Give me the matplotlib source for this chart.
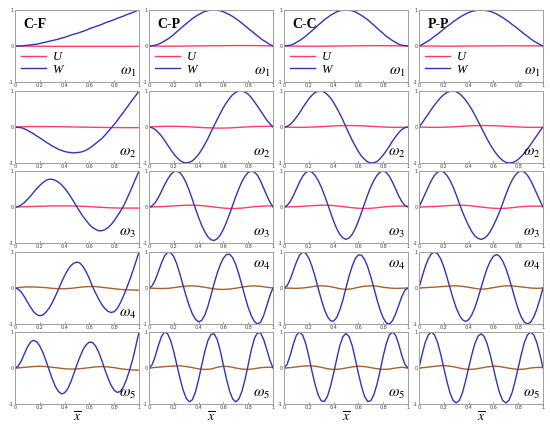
import numpy as np
import matplotlib.pyplot as plt

# sample positions along the beam
x_w = np.linspace(0, 1, 41)
x_u = np.linspace(0, 1, 21)

bcs = ["C-F", "C-P", "C-C", "P-P"]

# transverse mode shapes W, modes 1..5
w_cf = [
    [0, .00, .00, .01, .02, .03, .04, .05, .07, .09, .11, .13, .15, .17, .19, .22, .24, .27, .30, .33, .35,
     .38, .41, .44, .48, .51, .54, .57, .60, .64, .67, .70, .73, .77, .80, .83, .87, .90, .93, .97, 1.0],
    [0, -.01, -.02, -.05, -.09, -.14, -.19, -.25, -.30, -.36, -.42, -.47, -.53, -.57, -.62, -.65, -.68, -.70, -.71, -.72, -.71,
     -.70, -.68, -.64, -.59, -.53, -.46, -.39, -.32, -.23, -.13, -.03, .07, .18, .30, .41, .53, .65, .77, .88, 1.0],
    [0, .01, .06, .12, .21, .30, .41, .51, .60, .68, .74, .77, .77, .74, .69, .62, .52, .41, .28, .14, 0,
     -.14, -.27, -.38, -.49, -.57, -.62, -.66, -.66, -.63, -.57, -.49, -.38, -.25, -.12, .03, .21, .40, .60, .80, 1.0],
    [0, -.03, -.11, -.24, -.39, -.53, -.66, -.74, -.77, -.75, -.67, -.56, -.41, -.23, -.04, .16, .34, .50, .62, .69, .72,
     .69, .59, .44, .26, .04, -.14, -.31, -.46, -.57, -.65, -.68, -.66, -.57, -.41, -.22, 0, .22, .47, .73, 1.0],
    [0, .05, .19, .39, .58, .72, .77, .73, .61, .43, .20, -.05, -.30, -.51, -.65, -.72, -.69, -.58, -.39, -.15, .10,
     .32, .52, .65, .72, .71, .61, .44, .21, -.05, -.28, -.48, -.62, -.68, -.65, -.52, -.31, -.05, .25, .62, 1.0],
]
w_cp = [
    [0, .01, .02, .05, .09, .14, .19, .25, .32, .40, .47, .55, .62, .69, .76, .82, .87, .92, .96, .98, 1.0,
     1.0, .99, .98, .95, .91, .87, .82, .76, .70, .63, .56, .49, .42, .35, .28, .21, .15, .10, .04, 0],
    [0, -.02, -.07, -.15, -.25, -.37, -.50, -.63, -.75, -.85, -.93, -.98, -1.0, -.98, -.94, -.86, -.76, -.63, -.48, -.32, -.14,
     .04, .21, .38, .54, .68, .80, .90, .96, 1.0, 1.0, .97, .91, .82, .70, .58, .45, .32, .19, .09, 0],
    [0, .03, .12, .26, .43, .61, .77, .90, .98, 1.0, .95, .84, .67, .45, .21, -.05, -.29, -.51, -.69, -.83, -.91,
     -.93, -.88, -.78, -.62, -.42, -.19, .05, .29, .51, .71, .86, .96, 1.0, .97, .88, .72, .52, .32, .14, 0],
    [0, .06, .22, .45, .69, .89, .99, .98, .87, .66, .38, .07, -.23, -.50, -.72, -.87, -.94, -.90, -.75, -.51, -.20,
     .12, .41, .65, .83, .93, .94, .84, .65, .38, .07, -.25, -.54, -.77, -.93, -1.0, -.95, -.76, -.49, -.21, 0],
    [0, .09, .32, .62, .87, 1.0, .95, .76, .45, .08, -.29, -.61, -.84, -.94, -.88, -.66, -.32, .08, .46, .76, .93,
     .95, .79, .48, .08, -.31, -.64, -.86, -.94, -.86, -.64, -.31, .09, .50, .82, .98, .97, .79, .51, .22, 0],
]
w_cc = [
    [0, .01, .02, .05, .10, .15, .21, .27, .35, .42, .50, .58, .65, .73, .79, .85, .90, .95, .98, .99, 1.0,
     .99, .98, .95, .90, .85, .79, .73, .65, .58, .50, .42, .35, .27, .21, .15, .10, .05, .02, .01, 0],
    [0, .02, .07, .16, .27, .39, .53, .66, .78, .88, .96, .99, 1.0, .97, .90, .81, .68, .53, .37, .19, 0,
     -.19, -.37, -.53, -.68, -.81, -.90, -.97, -1.0, -.99, -.96, -.88, -.78, -.66, -.53, -.39, -.27, -.16, -.07, -.02, 0],
    [0, .04, .15, .31, .50, .69, .85, .96, 1.0, .97, .88, .74, .56, .34, .10, -.15, -.39, -.60, -.76, -.86, -.90,
     -.86, -.76, -.60, -.39, -.15, .10, .34, .56, .74, .88, .97, 1.0, .96, .85, .69, .50, .31, .15, .04, 0],
    [0, .06, .24, .48, .72, .91, 1.0, .97, .83, .61, .32, 0, -.31, -.59, -.79, -.91, -.92, -.82, -.61, -.33, 0,
     .33, .61, .82, .92, .91, .79, .59, .31, 0, -.32, -.61, -.83, -.97, -1.0, -.91, -.72, -.48, -.24, -.06, 0],
    [0, .10, .35, .66, .91, 1.0, .92, .68, .33, -.08, -.45, -.74, -.91, -.93, -.79, -.51, -.15, .25, .62, .87, .96,
     .87, .62, .25, -.15, -.51, -.79, -.93, -.91, -.74, -.45, -.08, .33, .68, .92, 1.0, .91, .66, .35, .10, 0],
]
w_pp = [
    [0, .04, .09, .14, .20, .27, .33, .40, .47, .54, .60, .67, .73, .79, .84, .89, .93, .96, .98, .99, 1.0,
     .99, .98, .96, .93, .89, .84, .79, .73, .67, .60, .54, .47, .40, .33, .27, .20, .14, .09, .04, 0],
    [0, .11, .24, .36, .49, .61, .72, .82, .90, .96, .99, 1.0, .98, .93, .85, .75, .63, .49, .34, .17, 0,
     -.17, -.34, -.49, -.63, -.75, -.85, -.93, -.98, -1.0, -.99, -.96, -.90, -.82, -.72, -.61, -.49, -.36, -.24, -.11, 0],
    [0, .18, .37, .56, .74, .88, .97, 1.0, .97, .88, .74, .56, .34, .10, -.13, -.33, -.52, -.68, -.80, -.87, -.90,
     -.87, -.80, -.68, -.52, -.33, -.13, .10, .34, .56, .74, .88, .97, 1.0, .97, .88, .74, .56, .37, .18, 0],
    [0, .31, .59, .81, .95, 1.0, .95, .81, .59, .31, 0, -.29, -.55, -.75, -.88, -.93, -.88, -.75, -.55, -.29, 0,
     .29, .55, .75, .88, .93, .88, .75, .55, .29, 0, -.31, -.59, -.81, -.95, -1.0, -.95, -.81, -.59, -.31, 0],
    [0, .38, .71, .92, 1.0, .92, .71, .38, 0, -.37, -.69, -.90, -.97, -.90, -.69, -.37, 0, .36, .67, .88, .95,
     .88, .67, .36, 0, -.37, -.69, -.90, -.97, -.90, -.69, -.37, 0, .38, .71, .92, 1.0, .92, .71, .38, 0],
]

# axial mode shapes U, modes 1..5
u_cf = [
    [0, 0, -.003, -.005, -.007, -.008, -.01, -.01, -.01, -.01, -.01, -.01, -.01, -.01, -.01, -.01, -.01, -.01, -.01, -.01, -.01],
    [0, .005, .01, .012, .013, .012, .01, .008, .005, .002, 0, -.003, -.006, -.009, -.012, -.014, -.016, -.017, -.018, -.018, -.018],
    [0, .005, .01, .015, .02, .025, .03, .03, .03, .03, .025, .02, .01, 0, -.01, -.02, -.025, -.03, -.03, -.03, -.03],
    [0, .02, .03, .03, .02, .01, -.01, -.02, -.02, -.01, .01, .03, .04, .04, .02, 0, -.02, -.04, -.05, -.055, -.06],
    [0, .01, .025, .04, .05, .04, .02, 0, -.02, -.03, -.025, -.01, .01, .03, .04, .03, .01, -.02, -.04, -.055, -.06],
]
u_cp = [
    [0, -.002, -.004, -.005, -.005, -.004, -.002, 0, .002, .004, .006, .008, .01, .011, .012, .012, .012, .011, .009, .006, .003],
    [0, .01, .015, .02, .02, .015, .01, 0, -.01, -.02, -.025, -.03, -.03, -.025, -.015, -.005, .005, .012, .017, .02, .02],
    [0, .005, .01, .02, .03, .04, .05, .05, .045, .03, .01, -.01, -.03, -.04, -.04, -.03, -.01, .01, .02, .03, .03],
    [0, -.01, -.015, -.01, .01, .035, .055, .06, .045, .02, -.01, -.035, -.04, -.03, -.005, .025, .05, .06, .045, .02, 0],
    [0, .015, .03, .045, .055, .06, .04, .01, -.025, -.04, -.03, .02, .05, .035, 0, -.03, -.04, -.02, .01, .02, .02],
]
u_cc = [
    [0, -.002, -.004, -.006, -.007, -.007, -.006, -.004, -.002, 0, .002, .004, .006, .008, .009, .01, .01, .008, .006, .003, 0],
    [0, -.005, -.01, -.01, -.005, 0, .01, .02, .03, .035, .04, .04, .035, .03, .02, .01, 0, -.005, -.01, -.01, -.005],
    [0, .005, .01, .02, .03, .04, .05, .05, .04, .02, 0, -.02, -.035, -.04, -.035, -.02, 0, .015, .025, .025, .02],
    [0, -.005, -.01, 0, .02, .05, .06, .05, .02, -.02, -.04, -.02, .02, .05, .06, .05, .02, 0, -.01, -.005, 0],
    [0, .01, .03, .05, .06, .05, .02, -.02, -.04, -.03, 0, .03, .05, .04, .01, -.02, -.04, -.03, 0, .02, 0],
]
u_pp = [
    [0, -.001, -.002, -.003, -.004, -.004, -.003, -.002, -.001, 0, .001, .002, .003, .004, .005, .005, .005, .004, .003, .002, 0],
    [0, -.005, -.01, -.01, -.005, 0, .01, .02, .03, .035, .04, .04, .035, .03, .02, .01, 0, -.005, -.01, -.01, -.01],
    [0, .005, .01, .02, .03, .04, .05, .05, .04, .02, 0, -.02, -.035, -.04, -.035, -.02, 0, .015, .025, .025, .02],
    [0, .01, .02, .03, .045, .055, .06, .045, .02, -.01, -.035, -.02, .01, .04, .06, .06, .04, .02, 0, -.01, 0],
    [0, .015, .035, .055, .07, .05, .02, -.02, -.04, -.03, 0, .03, .05, .04, .01, -.02, -.04, -.03, 0, .015, .02],
]

W = [w_cf, w_cp, w_cc, w_pp]
U = [u_cf, u_cp, u_cc, u_pp]

blue = "#3333b8"
red = "#ff3d66"
brown = "#a8602c"
serif = "Liberation Serif"
plt.rcParams["mathtext.fontset"] = "stix"

fig = plt.figure(figsize=(5.5, 4.26), dpi=100)
lefts = [15, 149, 284, 419]
tops = [10, 91, 171, 252, 332]
pw, ph = 124, 72

for c, bc in enumerate(bcs):
    for r in range(5):
        ax = fig.add_axes([lefts[c] / 550, 1 - (tops[r] + ph) / 426, pw / 550, ph / 426])
        ucol = red if r < 3 else brown
        ax.plot(x_u, U[c][r], color=ucol, lw=1.0, label="U")
        ax.plot(x_w, W[c][r], color=blue, lw=1.0, label="W")
        ax.set_xlim(0, 1)
        ax.set_ylim(-1, 1)
        ax.set_xticks([0, 0.2, 0.4, 0.6, 0.8, 1])
        ax.set_xticklabels(["0", "0.2", "0.4", "0.6", "0.8", "1"])
        ax.set_yticks([-1, 0, 1])
        ax.set_yticklabels(["-1", "0", "1"])
        ax.tick_params(labelsize=3.5, length=1.2, width=0.4, pad=1, colors="#444444", direction="in")
        for s in ax.spines.values():
            s.set_color("#a0a0a0")
            s.set_linewidth(0.7)

        lab = r"$\omega_{%d}$" % (r + 1)
        if r == 3 and c > 0:
            ax.text(0.98, 0.93, lab, transform=ax.transAxes, ha="right", va="top", fontsize=11)
        else:
            ax.text(0.98, 0.04, lab, transform=ax.transAxes, ha="right", va="bottom", fontsize=11)

        if r == 0:
            ax.text(0.07, 0.8, bc, transform=ax.transAxes, ha="left", va="center",
                    fontsize=10, fontweight="bold", family=serif)
            ax.legend(loc="lower left", frameon=False, handlelength=2.0, handletextpad=0.5,
                      labelspacing=0.05, borderaxespad=0.1,
                      prop={"family": serif, "style": "italic", "size": 9})
        if r == 4:
            ax.set_xlabel(r"$\overline{x}$", fontsize=10, labelpad=0)

fig.savefig("out.png", dpi=100)
